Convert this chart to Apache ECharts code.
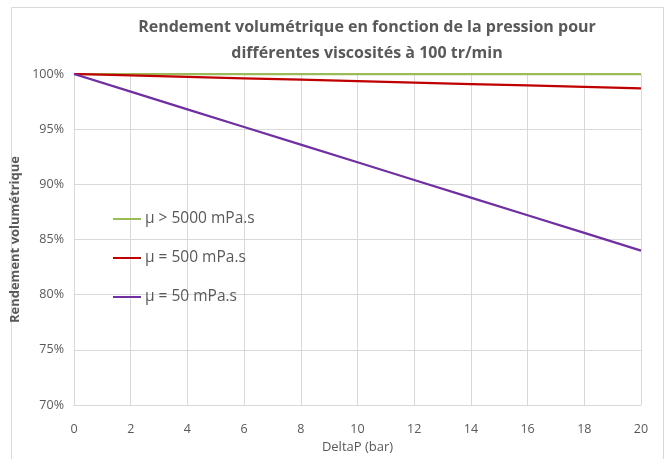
<!DOCTYPE html>
<html><head><meta charset="utf-8">
<script src="https://cdn.jsdelivr.net/npm/echarts@6/dist/echarts.min.js"></script>
<style>html,body{margin:0;padding:0;background:#fff}#c{width:667px;height:459px}</style>
</head><body><div id="c"></div>
<script>
var pressures = [0, 2, 4, 6, 8, 10, 12, 14, 16, 18, 20];
var mu5000 = [100, 100, 100, 100, 100, 100, 100, 100, 100, 100, 100];
var mu500 = [100, 99.87, 99.74, 99.61, 99.48, 99.35, 99.22, 99.09, 98.96, 98.83, 98.7];
var mu50 = [100, 98.4, 96.8, 95.2, 93.6, 92.0, 90.4, 88.8, 87.2, 85.6, 84.0];
var seriesNames = ['\u03bc > 5000 mPa.s', '\u03bc = 500 mPa.s', '\u03bc = 50 mPa.s'];
var colors = ['#9bbb59', '#c00000', '#7030a0'];
var titleText = 'Rendement volumétrique en fonction de la pression pour\ndifférentes viscosités à 100 tr/min';
var font = 'Open Sans';

function pairs(v){ return pressures.map(function(p,i){ return [p, v[i]]; }); }
var chart = echarts.init(document.getElementById('c'));
chart.setOption({
  animation: false,
  textStyle: {fontFamily: font},
  graphic: [{type:'rect', shape:{x:11.5,y:7.5,width:652,height:470}, style:{fill:'none', stroke:'#d9d9d9', lineWidth:1}, silent:true}],
  title: {text: titleText, left: 362, textAlign: 'center', top: 9,
    textStyle: {fontFamily: font, fontSize: 16, fontWeight: 'bold', color: '#595959', lineHeight: 26}},
  legend: {orient: 'vertical', left: 108, top: 206, itemWidth: 28, itemHeight: 2, itemGap: 23, icon: 'rect',
    textStyle: {fontFamily: font, fontSize: 15.5, color: '#595959', padding:[0,0,0,-1]},
    data: seriesNames},
  grid: {left: 74, right: 26, top: 74, bottom: 47},
  xAxis: {type: 'value', min: 0, max: 20, interval: 2, name: 'DeltaP (bar)', nameLocation: 'middle', nameGap: 32,
    nameTextStyle: {fontFamily: font, fontSize: 13, color: '#595959'},
    axisLine: {show: true, lineStyle: {color: '#d9d9d9'}}, axisTick: {show: false},
    axisLabel: {fontFamily: font, fontSize: 12.5, color: '#595959', margin: 18},
    splitLine: {show: true, lineStyle: {color: '#d9d9d9'}}},
  yAxis: {type: 'value', min: 70, max: 100, interval: 5, name: 'Rendement volumétrique', nameLocation: 'middle', nameGap: 39,
    nameTextStyle: {fontFamily: font, fontSize: 13, fontWeight: 'bold', color: '#595959'},
    axisLine: {show: false}, axisTick: {show: false},
    axisLabel: {fontFamily: font, fontSize: 12.5, color: '#595959', margin: 10, formatter: function(v){return v+'%';}},
    splitLine: {show: true, lineStyle: {color: '#d9d9d9'}}},
  series: seriesNames.map(function(n, i){
    return {name: n, type: 'line', data: pairs([mu5000, mu500, mu50][i]), showSymbol: false, symbol: 'none',
      lineStyle: {color: colors[i], width: 2.25}, itemStyle: {color: colors[i]}};
  })
});
</script></body></html>
